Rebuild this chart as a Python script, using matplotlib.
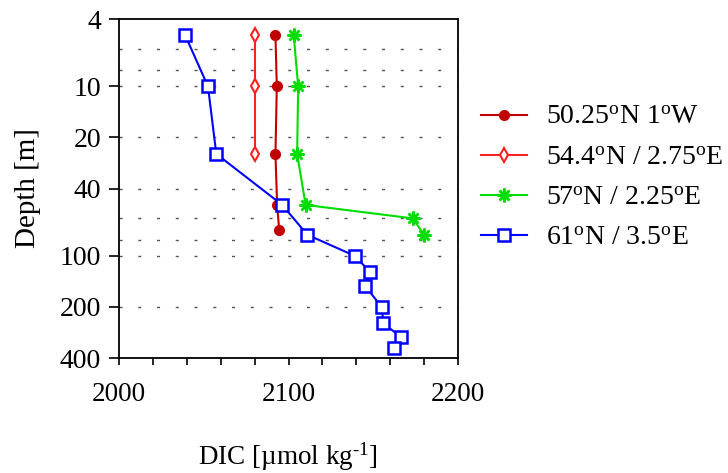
import matplotlib
matplotlib.use("Agg")
import matplotlib.pyplot as plt
from matplotlib.ticker import FixedLocator, NullLocator, NullFormatter

plt.rcParams['font.family'] = ['Liberation Serif', 'DejaVu Serif']
plt.rcParams['mathtext.fontset'] = 'custom'
plt.rcParams['mathtext.rm'] = 'Liberation Serif'
plt.rcParams['mathtext.it'] = 'Liberation Serif:italic'

# Data
labels = ["50.25$^{\\rm o}$N 1$^{\\rm o}$W",
          "54.4$^{\\rm o}$N / 2.75$^{\\rm o}$E",
          "57$^{\\rm o}$N / 2.25$^{\\rm o}$E",
          "61$^{\\rm o}$N / 3.5$^{\\rm o}$E"]

depth_a = [5, 10, 25, 50, 70]
dic_a = [2092.3, 2093.1, 2092.3, 2093.3, 2094.5]

depth_b = [5, 10, 25]
dic_b = [2080.5, 2080.5, 2080.5]

depth_c = [5, 10, 25, 50, 60, 75]
dic_c = [2103.1, 2105.7, 2105.1, 2110.1, 2173.2, 2180.1]

depth_d = [5, 10, 25, 50, 75, 100, 125, 150, 200, 250, 300, 350]
dic_d = [2039.1, 2052.5, 2057.4, 2096.3, 2111.1, 2139.2, 2148.3, 2145.1,
         2155.0, 2156.0, 2166.2, 2162.3]

grid_depths = [6, 8, 10, 20, 40, 60, 80, 100, 200]
ytick_vals = [4, 10, 20, 40, 100, 200, 400]
xtick_major = [2000, 2100, 2200]
xtick_all = list(range(2000, 2201, 20))

fig = plt.figure(figsize=(7.28, 4.73), dpi=100)
ax = fig.add_axes([119/728, 1-358/473, (458-119)/728, (358-19)/473])

ax.set_yscale('log')
ax.set_ylim(400, 4)
ax.set_xlim(2000, 2200)

for g in grid_depths:
    ax.axhline(g, color='#555555', lw=1.0, linestyle=(0, (2.2, 11.3)), zorder=0)

ax.plot(dic_a, depth_a, color='#c00000', lw=1.5, marker='o', ms=7,
        mfc='#c00000', mec='#c00000', label=labels[0])
ax.plot(dic_b, depth_b, color='#ff2020', lw=1.5, marker='d', ms=7,
        mfc='white', mec='#ff2020', mew=1.5, label=labels[1])
ax.plot(dic_c, depth_c, color='#00dd00', lw=1.5, marker=(8, 2, 0), ms=10,
        mec='#00dd00', mew=1.8, label=labels[2])
ax.plot(dic_d, depth_d, color='#0000ff', lw=1.5, marker='s', ms=8,
        mfc='white', mec='#0000ff', mew=1.8, label=labels[3])

ax.yaxis.set_major_locator(FixedLocator(ytick_vals))
ax.yaxis.set_minor_locator(NullLocator())
ax.yaxis.set_minor_formatter(NullFormatter())
ax.set_yticklabels([str(v) for v in ytick_vals])
ax.xaxis.set_major_locator(FixedLocator(xtick_major))
ax.xaxis.set_minor_locator(FixedLocator(xtick_all))
ax.set_xticklabels([str(v) for v in xtick_major])

ax.tick_params(axis='y', which='major', direction='out', length=7, width=1.2,
               labelsize=20, pad=6)
ax.tick_params(axis='x', which='both', direction='out', length=5, width=1.2,
               labelsize=19.5, pad=12)
for s in ax.spines.values():
    s.set_linewidth(1.3)

fig.text(288/728, 1-457/473, "DIC [\u00b5mol kg$^{\\mathrm{\u2010}1}$]",
         ha='center', va='center', fontsize=19.5)
fig.text(28/728, 1-188/473, "Depth [m]", rotation=90, ha='center',
         va='center', fontsize=21)

leg = fig.legend(loc='center left', bbox_to_anchor=(470/728, 1-178/473),
                 frameon=False, fontsize=20, handlelength=1.65,
                 handletextpad=0.7, labelspacing=0.53, borderaxespad=0)

fig.savefig("out.png", dpi=100)
